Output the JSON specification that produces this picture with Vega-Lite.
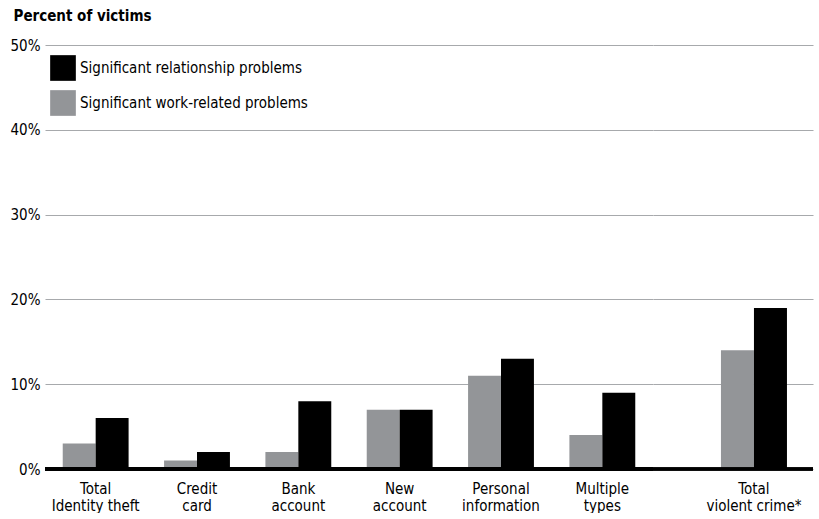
{
  "$schema": "https://vega.github.io/schema/vega-lite/v6.json",
  "padding": {"left": 10, "top": 8, "right": 7, "bottom": 0},
  "background": "white",
  "bounds": "flush",
  "datasets": {
    "victims": [
      {"category": "Total\nIdentity theft", "group": "identity", "problem": "Significant work-related problems", "value": 3},
      {"category": "Total\nIdentity theft", "group": "identity", "problem": "Significant relationship problems", "value": 6},
      {"category": "Credit\ncard", "group": "identity", "problem": "Significant work-related problems", "value": 1},
      {"category": "Credit\ncard", "group": "identity", "problem": "Significant relationship problems", "value": 2},
      {"category": "Bank\naccount", "group": "identity", "problem": "Significant work-related problems", "value": 2},
      {"category": "Bank\naccount", "group": "identity", "problem": "Significant relationship problems", "value": 8},
      {"category": "New\naccount", "group": "identity", "problem": "Significant work-related problems", "value": 7},
      {"category": "New\naccount", "group": "identity", "problem": "Significant relationship problems", "value": 7},
      {"category": "Personal\ninformation", "group": "identity", "problem": "Significant work-related problems", "value": 11},
      {"category": "Personal\ninformation", "group": "identity", "problem": "Significant relationship problems", "value": 13},
      {"category": "Multiple\ntypes", "group": "identity", "problem": "Significant work-related problems", "value": 4},
      {"category": "Multiple\ntypes", "group": "identity", "problem": "Significant relationship problems", "value": 9},
      {"category": "Total\nviolent crime*", "group": "violent", "problem": "Significant work-related problems", "value": 14},
      {"category": "Total\nviolent crime*", "group": "violent", "problem": "Significant relationship problems", "value": 19}
    ]
  },
  "config": {
    "font": "DejaVu Sans Condensed",
    "view": {"stroke": null},
    "axis": {
      "labelFont": "DejaVu Sans Condensed",
      "labelColor": "#000000",
      "ticks": false,
      "domain": false,
      "gridColor": "#a7a9ac",
      "gridWidth": 1.2,
      "gridOpacity": 1
    }
  },
  "spacing": 0,
  "resolve": {"scale": {"x": "independent", "xOffset": "independent"}, "legend": {"color": "shared"}},
  "hconcat": [
    {
      "width": 608,
      "height": 424,
      "data": {"name": "victims"},
      "transform": [{"filter": "datum.group == 'identity'"}],
      "layer": [
        {
          "mark": {"type": "bar"},
          "encoding": {
            "x": {
              "field": "category", "type": "nominal", "sort": null,
              "scale": {"paddingInner": 0.35, "paddingOuter": 0.175},
              "axis": {"title": null, "labelAngle": 0, "labelFontSize": 15, "labelLineHeight": 17, "labelPadding": 12, "labelExpr": "split(datum.label, '\\n')", "grid": false}
            },
            "xOffset": {
              "field": "problem", "type": "nominal",
              "scale": {"domain": ["Significant work-related problems", "Significant relationship problems"], "paddingInner": 0, "paddingOuter": 0}
            },
            "y": {
              "field": "value", "type": "quantitative",
              "scale": {"domain": [0, 50]},
              "axis": {
                "values": [0, 10, 20, 30, 40, 50],
                "labelExpr": "datum.value + '%'",
                "labelFontSize": 15,
                "labelPadding": 5,
                "title": "Percent of victims",
                "titleAngle": 0,
                "titleAlign": "left",
                "titleBaseline": "top",
                "titleX": -32,
                "titleY": -37,
                "titleFont": "DejaVu Sans Condensed",
                "titleFontSize": 15,
                "titleFontWeight": "bold",
                "titleColor": "#000000"
              }
            },
            "color": {
              "field": "problem", "type": "nominal",
              "scale": {"domain": ["Significant relationship problems", "Significant work-related problems"], "range": ["#000000", "#939598"]},
              "legend": {
                "title": null,
                "orient": "none",
                "legendX": 5,
                "legendY": 10,
                "symbolType": "square",
                "symbolSize": 660,
                "symbolStrokeWidth": 0,
                "symbolOpacity": 1,
                "labelFontSize": 15,
                "labelFont": "DejaVu Sans Condensed",
                "labelColor": "#000000",
                "labelOffset": 4,
                "rowPadding": 9,
                "labelLimit": 400
              }
            }
          }
        },
        {
          "mark": {"type": "rule", "color": "#000000", "strokeWidth": 3.5},
          "encoding": {"y": {"datum": 0}}
        }
      ]
    },
    {
      "width": 160,
      "height": 424,
      "data": {"name": "victims"},
      "transform": [{"filter": "datum.group == 'violent'"}],
      "layer": [
        {
          "mark": {"type": "bar"},
          "encoding": {
            "x": {
              "field": "category", "type": "nominal", "sort": null,
              "scale": {"paddingInner": 0, "paddingOuter": 0.712, "align": 0.723},
              "axis": {"title": null, "labelAngle": 0, "labelFontSize": 15, "labelLineHeight": 17, "labelPadding": 12, "labelExpr": "split(datum.label, '\\n')", "grid": false}
            },
            "xOffset": {
              "field": "problem", "type": "nominal",
              "scale": {"domain": ["Significant work-related problems", "Significant relationship problems"], "paddingInner": 0, "paddingOuter": 0}
            },
            "y": {
              "field": "value", "type": "quantitative",
              "scale": {"domain": [0, 50]},
              "axis": {"values": [0, 10, 20, 30, 40, 50], "labels": false, "title": null, "minExtent": 0, "maxExtent": 0, "labelPadding": 0, "offset": 0}
            },
            "color": {
              "field": "problem", "type": "nominal",
              "scale": {"domain": ["Significant relationship problems", "Significant work-related problems"], "range": ["#000000", "#939598"]}
            }
          }
        },
        {
          "mark": {"type": "rule", "color": "#000000", "strokeWidth": 3.5},
          "encoding": {"y": {"datum": 0}}
        }
      ]
    }
  ]
}
